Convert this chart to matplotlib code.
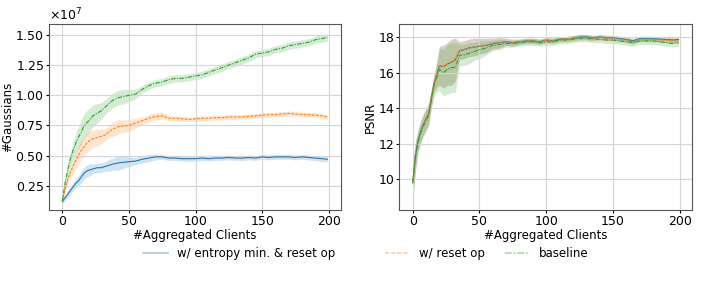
import numpy as np
import matplotlib
matplotlib.use('Agg')
import matplotlib.pyplot as plt

clients = [0, 2, 4, 6, 8, 10, 12, 14, 16, 18, 20, 23, 26, 29, 32, 35, 38, 42, 46, 50,
           55, 60, 65, 70, 75, 80, 85, 90, 95, 100, 105, 110, 115, 120, 125, 130, 135,
           140, 145, 150, 155, 160, 165, 170, 175, 180, 185, 190, 195, 199]

labels = ['w/ entropy min. & reset op', 'w/ reset op', 'baseline']

# number of gaussians (x1e7)
gauss_entropy = [0.12, 0.15, 0.18, 0.21, 0.24, 0.27, 0.29, 0.32, 0.35, 0.37, 0.38, 0.39, 0.40, 0.40,
                 0.41, 0.42, 0.43, 0.44, 0.445, 0.45, 0.455, 0.47, 0.48, 0.49, 0.49, 0.48, 0.48, 0.475,
                 0.475, 0.475, 0.48, 0.475, 0.48, 0.48, 0.485, 0.48, 0.48, 0.485, 0.48, 0.49, 0.485,
                 0.49, 0.49, 0.49, 0.485, 0.49, 0.485, 0.48, 0.475, 0.47]
gauss_entropy_std = [0.02, 0.02, 0.03, 0.03, 0.03, 0.04, 0.04, 0.05, 0.05, 0.05, 0.05, 0.04, 0.04, 0.04,
                     0.04, 0.05, 0.05, 0.06, 0.05, 0.04, 0.03, 0.03, 0.03, 0.025, 0.02, 0.02, 0.02, 0.02,
                     0.02, 0.02, 0.02, 0.02, 0.02, 0.02, 0.02, 0.02, 0.02, 0.02, 0.02, 0.02, 0.02,
                     0.02, 0.02, 0.02, 0.02, 0.02, 0.02, 0.02, 0.025, 0.02]
gauss_reset = [0.12, 0.22, 0.30, 0.36, 0.41, 0.46, 0.50, 0.54, 0.57, 0.60, 0.62, 0.64, 0.65, 0.66,
               0.67, 0.70, 0.72, 0.74, 0.745, 0.75, 0.77, 0.79, 0.81, 0.825, 0.83, 0.81, 0.81, 0.805,
               0.80, 0.805, 0.81, 0.81, 0.815, 0.815, 0.82, 0.82, 0.82, 0.825, 0.83, 0.835, 0.84,
               0.84, 0.845, 0.85, 0.845, 0.84, 0.84, 0.835, 0.83, 0.82]
gauss_reset_std = [0.02, 0.03, 0.04, 0.05, 0.06, 0.07, 0.08, 0.08, 0.08, 0.08, 0.08, 0.07, 0.07, 0.06,
                   0.05, 0.05, 0.06, 0.06, 0.05, 0.05, 0.04, 0.03, 0.03, 0.03, 0.03, 0.02, 0.02, 0.02,
                   0.02, 0.02, 0.02, 0.02, 0.02, 0.02, 0.02, 0.02, 0.02, 0.02, 0.02, 0.02, 0.02,
                   0.02, 0.02, 0.02, 0.02, 0.02, 0.02, 0.02, 0.02, 0.02]
gauss_base = [0.12, 0.27, 0.38, 0.47, 0.54, 0.60, 0.65, 0.69, 0.74, 0.77, 0.79, 0.83, 0.85, 0.87,
              0.90, 0.93, 0.96, 0.98, 0.99, 1.00, 1.01, 1.05, 1.08, 1.10, 1.11, 1.13, 1.14, 1.14,
              1.15, 1.16, 1.17, 1.19, 1.21, 1.23, 1.25, 1.27, 1.29, 1.31, 1.34, 1.35, 1.36,
              1.38, 1.39, 1.41, 1.42, 1.43, 1.44, 1.46, 1.47, 1.48]
gauss_base_std = [0.02, 0.04, 0.05, 0.06, 0.07, 0.08, 0.09, 0.10, 0.10, 0.10, 0.10, 0.09, 0.08, 0.07,
                  0.06, 0.06, 0.06, 0.06, 0.06, 0.05, 0.04, 0.03, 0.03, 0.03, 0.03, 0.03, 0.03, 0.03,
                  0.03, 0.03, 0.03, 0.03, 0.03, 0.03, 0.03, 0.03, 0.03, 0.03, 0.03, 0.03, 0.03,
                  0.03, 0.03, 0.03, 0.03, 0.03, 0.03, 0.03, 0.03, 0.03]

# PSNR
psnr_entropy = [9.8, 11.3, 12.2, 12.7, 13.1, 13.4, 13.7, 14.6, 15.4, 15.9, 16.4, 16.35, 16.5, 16.6,
                16.75, 17.25, 17.3, 17.4, 17.45, 17.5, 17.55, 17.65, 17.7, 17.75, 17.7, 17.75, 17.8, 17.8,
                17.75, 17.85, 17.8, 17.9, 17.9, 17.95, 18.02, 18.02, 17.97, 18.02, 17.98, 17.97, 17.93,
                17.88, 17.8, 17.93, 17.93, 17.92, 17.9, 17.88, 17.85, 17.88]
psnr_reset = [9.8, 11.3, 12.2, 12.7, 13.1, 13.4, 13.7, 14.6, 15.4, 15.9, 16.4, 16.35, 16.5, 16.6,
              16.75, 17.25, 17.3, 17.4, 17.45, 17.5, 17.55, 17.65, 17.7, 17.75, 17.7, 17.75, 17.8, 17.8,
              17.75, 17.85, 17.8, 17.9, 17.9, 17.95, 18.0, 18.0, 17.95, 18.0, 17.95, 17.95, 17.9,
              17.85, 17.75, 17.9, 17.9, 17.9, 17.85, 17.85, 17.8, 17.85]
psnr_base = [9.8, 11.2, 12.1, 12.6, 13.0, 13.3, 13.6, 14.5, 15.3, 15.7, 16.2, 16.0, 16.2, 16.3,
             16.3, 17.0, 17.0, 17.1, 17.2, 17.3, 17.4, 17.55, 17.6, 17.65, 17.65, 17.7, 17.75, 17.75,
             17.7, 17.75, 17.75, 17.85, 17.85, 17.9, 17.95, 17.95, 17.9, 17.9, 17.85, 17.85, 17.8,
             17.75, 17.7, 17.8, 17.8, 17.8, 17.75, 17.7, 17.65, 17.7]
psnr_std = [1.0, 0.8, 0.6, 0.6, 0.6, 0.6, 0.6, 0.5, 0.5, 0.7, 1.1, 1.2, 1.2, 1.3,
            1.2, 0.5, 0.5, 0.5, 0.5, 0.45, 0.4, 0.3, 0.3, 0.2, 0.2, 0.15, 0.15, 0.15,
            0.15, 0.15, 0.15, 0.15, 0.15, 0.15, 0.15, 0.15, 0.15, 0.15, 0.15, 0.15, 0.15,
            0.15, 0.15, 0.15, 0.15, 0.15, 0.15, 0.15, 0.15, 0.15]
psnr_base_std = [1.0, 0.8, 0.6, 0.6, 0.6, 0.6, 0.6, 0.5, 0.6, 0.8, 1.2, 1.3, 1.4, 1.4,
                 1.4, 0.6, 0.6, 0.6, 0.5, 0.5, 0.4, 0.3, 0.3, 0.2, 0.2, 0.2, 0.2, 0.2,
                 0.2, 0.2, 0.2, 0.2, 0.2, 0.2, 0.2, 0.2, 0.2, 0.2, 0.2, 0.2, 0.2,
                 0.2, 0.2, 0.2, 0.2, 0.2, 0.2, 0.2, 0.2, 0.2]

colors = ['tab:blue', 'tab:orange', 'tab:green']
styles = ['-', (0, (2.5, 1.2)), (0, (4, 1.2, 1, 1.2))]

plt.rcParams['font.size'] = 9
plt.rcParams['xtick.major.size'] = 2
plt.rcParams['ytick.major.size'] = 2
plt.rcParams['xtick.major.pad'] = 1.5
plt.rcParams['ytick.major.pad'] = 1.5

fig = plt.figure(figsize=(7.06, 2.83), dpi=100)
ax1 = fig.add_axes([0.0694, 0.258, 0.4132, 0.657])
ax2 = fig.add_axes([0.5656, 0.258, 0.4144, 0.657])

x = np.array(clients)
gauss = [(gauss_entropy, gauss_entropy_std), (gauss_reset, gauss_reset_std), (gauss_base, gauss_base_std)]
for (m, s), c, ls, lab in zip(gauss, colors, styles, labels):
    m = np.array(m) * 1e7
    s = np.array(s) * 1e7
    ax1.fill_between(x, m - s, m + s, color=c, alpha=0.2, lw=0)
    ax1.plot(x, m, color=c, ls=ls, lw=0.8, label=lab)

psnr = [(psnr_entropy, psnr_std), (psnr_reset, psnr_std), (psnr_base, psnr_base_std)]
for (m, s), c, ls in zip(psnr, colors, styles):
    m = np.array(m)
    s = np.array(s)
    ax2.fill_between(x, m - s, m + s, color=c, alpha=0.2, lw=0)
    ax2.plot(x, m, color=c, ls=ls, lw=0.8)

ax1.set_ylim(0.05e7, 1.59e7)
ax1.set_yticks([0.25e7, 0.5e7, 0.75e7, 1.0e7, 1.25e7, 1.5e7])
ax1.ticklabel_format(axis='y', style='sci', scilimits=(7, 7), useMathText=True)
ax1.set_ylabel('#Gaussians', fontsize=8.5, labelpad=1)
ax2.set_ylim(8.27, 18.75)
ax2.set_yticks([10, 12, 14, 16, 18])
ax2.set_ylabel('PSNR', fontsize=8.5, labelpad=1)

for ax in (ax1, ax2):
    ax.set_xlim(-10, 209)
    ax.set_xticks([0, 50, 100, 150, 200])
    ax.set_xlabel('#Aggregated Clients', fontsize=8.5, labelpad=0.5)
    ax.grid(True, color='#d5d5d5', lw=0.8)
    for sp in ax.spines.values():
        sp.set_color('#555555')

# legend entries placed one by one to copy the uneven spacing
handles, lbls = ax1.get_legend_handles_labels()
for h, lab, xpos in zip(handles, lbls, [0.2025, 0.5453, 0.7153]):
    leg = fig.legend([h], [lab], loc='center left', bbox_to_anchor=(xpos, 0.1025),
                     frameon=False, borderpad=0, borderaxespad=0, fontsize=8.5,
                     handlelength=2.1, handletextpad=0.75)
    for lh in leg.legend_handles:
        lh.set_alpha(0.4)
        lh.set_linewidth(1.2)

fig.savefig('out.png', dpi=100)
